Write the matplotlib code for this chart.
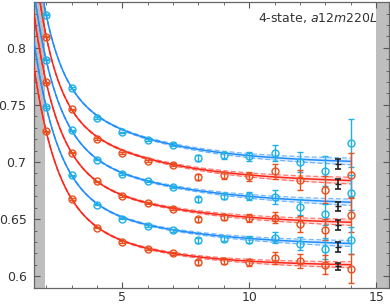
import numpy as np
import matplotlib
matplotlib.use('Agg')
import matplotlib.pyplot as plt
from matplotlib.ticker import MultipleLocator

# time slices of the data points
t = [2, 3, 4, 5, 6, 7, 8, 9, 10, 11, 12, 13, 14]

# data points, top to bottom (blue, red, blue, red, blue, red)
blue1 = [0.8291, 0.7647, 0.7384, 0.7259, 0.7189, 0.7152, 0.7035, 0.7058, 0.7049, 0.7078, 0.6999, 0.6921, 0.7166]
red1 = [0.8099, 0.7460, 0.7204, 0.7082, 0.7012, 0.6977, 0.6866, 0.6883, 0.6875, 0.6918, 0.6846, 0.6758, 0.6883]
blue2 = [0.7895, 0.7277, 0.7021, 0.6892, 0.6831, 0.6781, 0.6673, 0.6700, 0.6700, 0.6694, 0.6606, 0.6542, 0.6732]
red2 = [0.7697, 0.7082, 0.6831, 0.6700, 0.6638, 0.6592, 0.6498, 0.6519, 0.6507, 0.6513, 0.6455, 0.6408, 0.6540]
blue3 = [0.7481, 0.6883, 0.6627, 0.6505, 0.6443, 0.6402, 0.6315, 0.6330, 0.6321, 0.6338, 0.6286, 0.6242, 0.6315]
red3 = [0.7268, 0.6676, 0.6426, 0.6297, 0.6239, 0.6199, 0.6120, 0.6134, 0.6120, 0.6160, 0.6131, 0.6102, 0.6067]

err_b1 = [0.0006, 0.0006, 0.0007, 0.0008, 0.0009, 0.0012, 0.0025, 0.003, 0.0042, 0.0067, 0.0087, 0.013, 0.021]
err_r1 = [0.0006, 0.0006, 0.0007, 0.0008, 0.0009, 0.0012, 0.0025, 0.003, 0.004, 0.0064, 0.0088, 0.012, 0.02]
err_b2 = [0.0006, 0.0006, 0.0007, 0.0008, 0.0009, 0.0011, 0.002, 0.0028, 0.0035, 0.0058, 0.007, 0.009, 0.015]
err_r2 = [0.0006, 0.0006, 0.0007, 0.0008, 0.0009, 0.0011, 0.002, 0.0028, 0.0035, 0.005, 0.007, 0.009, 0.015]
err_b3 = [0.0006, 0.0006, 0.0007, 0.0008, 0.0009, 0.0011, 0.002, 0.0025, 0.003, 0.005, 0.006, 0.0095, 0.012]
err_r3 = [0.0006, 0.0006, 0.0007, 0.0008, 0.0009, 0.0011, 0.002, 0.0025, 0.003, 0.005, 0.006, 0.0087, 0.013]

# fit results per series: E0, A1, dE1, A2, dE2, band error
fit_b1 = [0.6980, 0.948, 1.34, 0.1126, 0.270, 0.0028]
fit_r1 = [0.6811, 0.993, 1.348, 0.1046, 0.263, 0.0028]
fit_b2 = [0.6612, 0.700, 1.11, 0.0810, 0.223, 0.0026]
fit_r2 = [0.6446, 0.699, 1.11, 0.0800, 0.2435, 0.0026]
fit_b3 = [0.6256, 0.646, 1.058, 0.0700, 0.224, 0.0025]
fit_r3 = [0.6087, 0.639, 1.116, 0.0898, 0.300, 0.0025]

# ground state values (black, plotted at t=13.5)
e0_t = 13.5
e0_err = [0.0044, 0.0044, 0.0042, 0.0042, 0.004, 0.003]

blue_line = '#1e8cff'
blue_pt = '#1eb0e6'
red_line = '#ff2418'
red_pt = '#e8501e'

series = [
    (blue1, err_b1, fit_b1, blue_line, blue_pt),
    (red1, err_r1, fit_r1, red_line, red_pt),
    (blue2, err_b2, fit_b2, blue_line, blue_pt),
    (red2, err_r2, fit_r2, red_line, red_pt),
    (blue3, err_b3, fit_b3, blue_line, blue_pt),
    (red3, err_r3, fit_r3, red_line, red_pt),
]

fig = plt.figure(figsize=(3.9, 3.05), dpi=100)
ax = fig.add_axes([0.086, 0.057, 0.911, 0.936])

ax.axvspan(1.5, 1.97, color='#bebebe', lw=0, zorder=0)
ax.axvspan(15.0, 15.5, color='#bebebe', lw=0, zorder=0)

tt = np.linspace(1.5, 14, 300)
for vals, errs, fit, lc, pc in series:
    e0, a1, m1, a2, m2, berr = fit
    curve = e0 + a1 * np.exp(-m1 * tt) + a2 * np.exp(-m2 * tt)
    w = berr * (tt / 13.5) ** 1.5
    ax.fill_between(tt, curve - w, curve + w, color=lc, alpha=0.15, lw=0, zorder=1)
    ax.plot(tt, curve + w, color=lc, lw=0.9, ls=(0, (4, 2)), alpha=0.6, zorder=2)
    ax.plot(tt, curve - w, color=lc, lw=0.9, ls=(0, (4, 2)), alpha=0.6, zorder=2)
    ax.plot(tt, curve, color=lc, lw=1.1, zorder=3)
    ax.errorbar(t, vals, yerr=errs, fmt='o', ms=5, mfc='none', mec=pc, mew=1.0,
                ecolor=pc, elinewidth=1.0, capsize=2.3, capthick=1.0, zorder=4)

for (vals, errs, fit, lc, pc), ee in zip(series, e0_err):
    ax.errorbar([e0_t], [fit[0]], yerr=[ee], fmt='_', ms=4, color='#222222',
                elinewidth=1.2, capsize=2.3, capthick=1.2, zorder=5)

ax.set_xlim(1.5, 15.5)
ax.set_ylim(0.59, 0.84)
ax.xaxis.set_major_locator(MultipleLocator(5))
ax.xaxis.set_minor_locator(MultipleLocator(1))
ax.yaxis.set_major_locator(MultipleLocator(0.05))
ax.yaxis.set_minor_locator(MultipleLocator(0.01))
ax.set_yticks([0.6, 0.65, 0.7, 0.75, 0.8])
ax.set_yticklabels(['0.6', '0.65', '0.7', '0.75', '0.8'])
ax.tick_params(which='both', direction='in', top=True, right=True, color='#555555',
               labelsize=9, labelcolor='#333333', pad=5)
ax.tick_params(axis='x', pad=2.5)
ax.tick_params(which='major', length=4, width=0.8)
ax.tick_params(which='minor', length=2, width=0.6)
for s in ax.spines.values():
    s.set_color('#666666')
    s.set_linewidth(0.9)

ax.text(0.969, 0.944, '4-state, $a12m220L$', transform=ax.transAxes,
        ha='right', va='center', fontsize=9, color='#333333')

fig.savefig('out.png', dpi=100)
